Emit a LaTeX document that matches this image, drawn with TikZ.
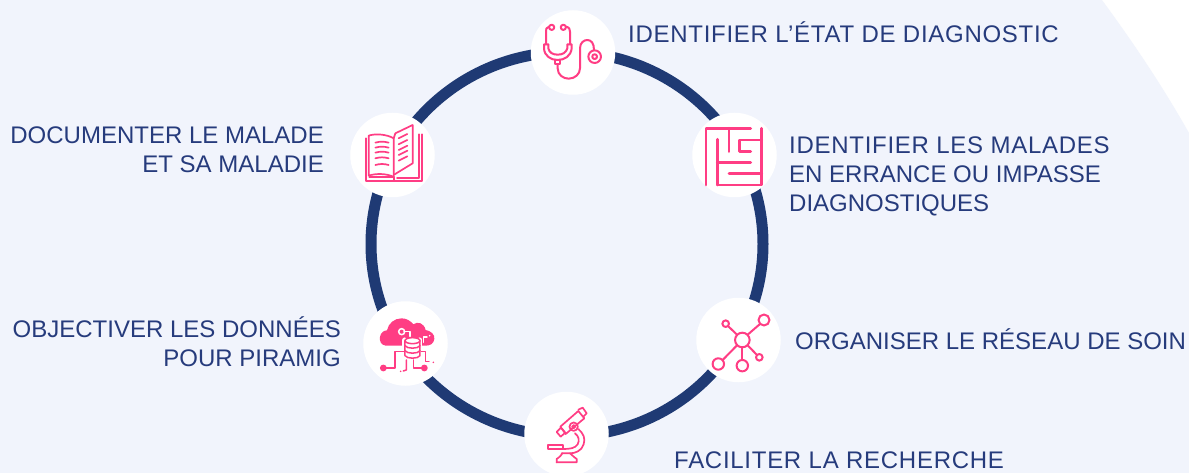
\documentclass[tikz,border=0pt]{standalone}
\usepackage{fontspec}
\setmainfont{Liberation Sans}
\newfontfamily\wideface[LetterSpace=3]{Liberation Sans}
\definecolor{bgc}{HTML}{F1F4FC}
\definecolor{ringc}{HTML}{1F3A74}
\definecolor{txtc}{HTML}{263B7C}
\definecolor{pinkc}{HTML}{FF3D84}
\tikzset{
  x=1pt,y=-1pt,
  disc/.style={circle,fill=white,minimum size=84.5pt,inner sep=0pt},
  lbl/.style={text=txtc,inner sep=0pt,font=\fontsize{24}{29}\selectfont},
  icon/.style={draw=pinkc,line width=2pt,line cap=round,line join=round},
  iconbox/.style={x=0.3333pt,y=-0.3333pt},
}
\begin{document}
\begin{tikzpicture}
\useasboundingbox (0,0) rectangle (1189,473);
\fill[white] (0,0) rectangle (1189,473);
\fill[bgc] (0,0) -- (1102,0) .. controls (1135,45) and (1163,87) .. (1189,133) -- (1189,473) -- (0,473) -- cycle;
\draw[ringc,line width=11pt] (567,244) ellipse [x radius=196pt,y radius=192pt];
\begin{scope}
\clip (0,0) rectangle (1189,473);
\node[disc] (top) at (573,52.5) {};
\node[disc] (rtop) at (734.5,155) {};
\node[disc] (rbot) at (738.5,340) {};
\node[disc] (bot) at (566.5,434) {};
\node[disc] (lbot) at (405.5,343.5) {};
\node[disc] (ltop) at (392.5,155) {};
\end{scope}
% stethoscope
\begin{scope}[shift={(520,0)},iconbox,icon]
\draw (95,82) circle [radius=2.6pt];
\draw (130,82) circle [radius=2.6pt];
\draw (87,80) .. controls (78,82) and (78,88) .. (78,95) -- (78,133);
\draw (138,80) .. controls (148,82) and (150,88) .. (150,95) -- (150,133);
\draw (72,133) -- (72,146) .. controls (74,168) and (92,180) .. (113,180) .. controls (134,180) and (152,168) .. (155,146) -- (155,133) -- (142,133) -- (142,145) .. controls (138,158) and (128,164) .. (113,164) .. controls (98,164) and (88,158) .. (85,145) -- (85,133) -- cycle;
\draw (105,180) -- (105,192) -- (121,192) -- (121,180);
\draw (113,192) -- (113,205) .. controls (113,225) and (130,236) .. (146,236) .. controls (165,236) and (180,222) .. (180,205) -- (180,145) .. controls (180,128) and (192,120) .. (202,120) .. controls (214,120) and (222,130) .. (222,150);
\draw (224,170) circle [radius=6.3pt];
\draw (224,170) circle [radius=2.4pt];
\end{scope}
% maze
\begin{scope}[shift={(680,105)},iconbox,icon,line width=2.8pt]
\draw (78,240) -- (78,70) -- (212,70);
\draw (112,240) -- (245,240) -- (245,70);
\draw (112,103) -- (112,240);
\draw (147,70) -- (147,140);
\draw (112,172) -- (212,172);
\draw (147,205) -- (245,205);
\draw (245,105) -- (178,105) -- (178,140) -- (212,140);
\end{scope}
% network
\begin{scope}[shift={(685,295)},iconbox,icon]
\draw (172,135) circle [radius=7.3pt];
\draw (237,75) circle [radius=5.5pt];
\draw (122,86) circle [radius=3.3pt];
\draw (223,187) circle [radius=3.3pt];
\draw (100,207) circle [radius=5.7pt];
\draw (172,212) circle [radius=5.7pt];
\draw (188,119) -- (225,87);
\draw (130,94) -- (156,119);
\draw (188,151) -- (215,179);
\draw (156,151) -- (113,195);
\draw (172,157) -- (172,195);
\end{scope}
% microscope
\begin{scope}[shift={(515,385)},iconbox,icon,line width=1.7pt]
\draw (125,141) -- (138,128) -- (151,143) -- (137,155) -- cycle;
\draw (136,125) -- (190,78) -- (208,100) -- (152,147) -- cycle;
\draw (190,74) -- (203,68) -- (215,85) -- (205,95);
\draw (176,125) circle [radius=4.2pt];
\draw (176,125) circle [radius=1.6pt];
\draw (190,132) .. controls (205,145) and (212,160) .. (206,178) .. controls (200,198) and (180,205) .. (165,205) -- (140,205);
\draw (180,145) .. controls (192,155) and (194,165) .. (188,178) .. controls (180,190) and (165,192) .. (145,192);
\draw (100,180) -- (145,180) -- (145,192) -- (100,192) -- cycle;
\draw (125,232) -- (185,232) -- (185,222) .. controls (175,215) and (168,207) .. (165,205);
\draw (125,232) -- (125,222) .. controls (135,215) and (140,210) .. (142,205);
\end{scope}
% cloud with database
\begin{scope}[shift={(355,295)},iconbox]
\fill[pinkc] (92,152) .. controls (78,150) and (73,138) .. (75,126) .. controls (77,112) and (88,106) .. (96,106) .. controls (100,85) and (118,70) .. (140,70) .. controls (155,70) and (167,78) .. (175,88) .. controls (188,78) and (207,84) .. (212,105) .. controls (228,108) and (240,118) .. (238,132) .. controls (236,146) and (226,152) .. (212,152) -- cycle;
\begin{scope}[icon,line width=1.5pt]
\draw[white] (140,110) circle [radius=3pt];
\draw[white] (147,110) -- (165,110) -- (165,124);
\draw[white,line width=1.4pt] (205,142) -- (205,126) -- (216,126);
\fill[white] (224,122) circle [radius=0.9pt];
\draw[white,line width=5pt] (150,135) -- (150,182) (195,135) -- (195,182);
\fill[white,draw=none] (150,130) rectangle (195,190);
\draw[draw=pinkc,fill=white] (150,137) -- (150,182) .. controls (155,192) and (190,192) .. (195,182) -- (195,137);
\draw[draw=pinkc,fill=white] (172.5,137) ellipse [x radius=7.5pt,y radius=3pt];
\draw (150,152) .. controls (155,162) and (190,162) .. (195,152);
\draw (150,167) .. controls (155,177) and (190,177) .. (195,167);
\draw (85,219) -- (120,219) -- (120,170) -- (146,170);
\draw (208,219) -- (175,219) -- (175,195);
\draw (154,195) -- (154,225) -- (145,228);
\draw (199,170) -- (212,170) -- (212,200) -- (222,200);
\end{scope}
\fill[pinkc] (85,219) circle [radius=3.4pt];
\fill[pinkc] (208,219) circle [radius=3.4pt];
\fill[pinkc] (137,229) circle [radius=0.9pt];
\fill[pinkc] (235,202) circle [radius=0.9pt];
\end{scope}
% book
\begin{scope}[shift={(342,105)},iconbox,icon,line width=1.7pt]
\draw (72,100) -- (72,228) -- (240,228) -- (240,88) (230,88) -- (230,218) -- (165,218) (82,216) -- (152,216);
\draw (155,228) -- (155,216);
\draw (155,100) .. controls (135,88) and (100,85) .. (80,92) -- (80,212) .. controls (100,205) and (135,205) .. (155,216) -- cycle;
\draw (155,100) -- (160,85) -- (212,60) -- (212,175) -- (158,208);
\foreach \y in {113,128,143,160,180}{\draw (100,\y) .. controls (115,\y-4) and (125,\y-4) .. (140,\y);}
\foreach \y in {100,118,135,150,167}{\draw (170,\y) -- (196,\y-13);}
\end{scope}
\node[lbl,anchor=west] (t1) at (628,32.5) {\wideface IDENTIFIER L’ÉTAT DE DIAGNOSTIC};
\node[lbl,anchor=west,align=left] (t2) at (789,176.5) {{\wideface IDENTIFIER LES MALADES}\\EN ERRANCE OU IMPASSE\\DIAGNOSTIQUES};
\node[lbl,anchor=west] (t3) at (795,339.5) {ORGANISER LE RÉSEAU DE SOIN};
\node[lbl,anchor=west] (t4) at (674,460) {\wideface FACILITER LA RECHERCHE};
\node[lbl,anchor=east,align=right] (t5) at (341,342) {OBJECTIVER LES DONNÉES\\POUR PIRAMIG};
\node[lbl,anchor=east,align=right] (t6) at (324,150) {DOCUMENTER LE MALADE\\ET SA MALADIE};
\end{tikzpicture}
\end{document}
